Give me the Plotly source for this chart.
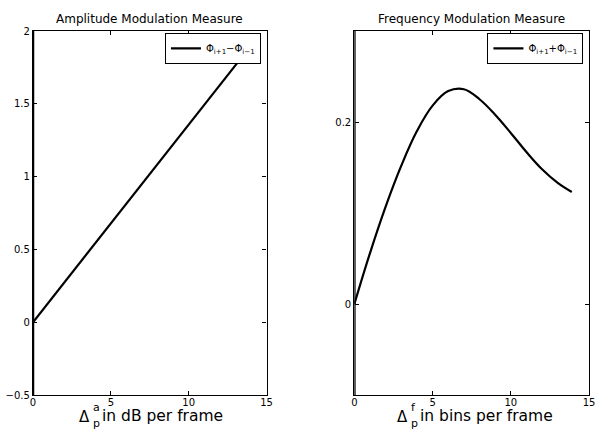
import plotly.graph_objects as go

# Amplitude modulation measure (phase difference Φ_{i+1} − Φ_{i−1})
am_x = [0, 14]
am_y = [0, 1.9]

# Frequency modulation measure (phase sum Φ_{i+1} + Φ_{i−1})
fm_x = [0, 1, 2, 3, 4, 5, 6, 7, 8, 9, 10, 11, 12, 13, 13.9]
fm_y = [0, 0.056, 0.107, 0.152, 0.190, 0.218, 0.234, 0.236, 0.225,
        0.208, 0.188, 0.167, 0.148, 0.133, 0.123]

x_ticks = [0, 5, 10, 15]
am_yticks = [-0.5, 0, 0.5, 1, 1.5, 2]
am_ytext = ["−0.5", "0", "0.5", "1", "1.5", "2"]
fm_yticks = [0, 0.2]

FONT = "DejaVu Sans, Arial, sans-serif"

fig = go.Figure()
fig.add_trace(go.Scatter(
    x=am_x, y=am_y, mode="lines", line=dict(color="black", width=2.2),
    name="Φ<sub>i+1</sub>−Φ<sub>i−1</sub>", xaxis="x", yaxis="y", legend="legend"))
fig.add_trace(go.Scatter(
    x=fm_x, y=fm_y, mode="lines", line=dict(color="black", width=2.2, shape="spline", smoothing=1.1),
    name="Φ<sub>i+1</sub>+Φ<sub>i−1</sub>", xaxis="x2", yaxis="y2", legend="legend2"))

axis_common = dict(
    showgrid=False, zeroline=False, showline=True, linecolor="black", linewidth=1.3,
    mirror="ticks", ticks="inside", ticklen=4, tickcolor="black",
    tickfont=dict(family=FONT, size=10, color="black"),
)

legend_common = dict(
    yanchor="top", xanchor="right", bordercolor="black", borderwidth=1, bgcolor="white",
    font=dict(family=FONT, size=10), itemwidth=30,
)

fig.update_layout(
    width=600, height=429,
    margin=dict(l=33, r=5, t=31, b=34),
    paper_bgcolor="white", plot_bgcolor="white",
    font=dict(family=FONT, color="black"),
    xaxis=dict(domain=[0, 0.42], range=[0, 15], tickvals=x_ticks, ticklabelstandoff=-2, **axis_common),
    yaxis=dict(domain=[0, 1], range=[-0.5, 2], tickvals=am_yticks, ticktext=am_ytext, **axis_common),
    xaxis2=dict(domain=[0.578, 1], range=[0, 15], tickvals=x_ticks, anchor="y2",
                ticklabelstandoff=-2, **axis_common),
    yaxis2=dict(domain=[0, 1], range=[-0.1, 0.3], tickvals=fm_yticks, anchor="x2", **axis_common),
    legend=dict(x=0.41, y=0.995, **legend_common),
    legend2=dict(x=0.99, y=0.995, **legend_common),
    showlegend=True,
)

# Thicker left spines
fig.add_shape(type="line", xref="x", yref="y", x0=0, x1=0, y0=-0.5, y1=2,
              line=dict(color="black", width=2.5))
fig.add_shape(type="line", xref="x2", yref="y2", x0=0, x1=0, y0=-0.1, y1=0.3,
              line=dict(color="black", width=2.5))

# Panel titles
for xc, title in ((0.21, "Amplitude Modulation Measure"), (0.789, "Frequency Modulation Measure")):
    fig.add_annotation(text=title, x=xc, y=1.0, xref="paper", yref="paper",
                       xanchor="center", yanchor="bottom", yshift=3, showarrow=False,
                       font=dict(family=FONT, size=12))

# Axis titles: Δ with stacked super/subscript
def delta_label(x_paper, sup, rest):
    fig.add_annotation(text="Δ", x=x_paper, y=0, xref="paper", yref="paper", xanchor="right",
                       yanchor="top", yshift=-11, showarrow=False, font=dict(family=FONT, size=15))
    fig.add_annotation(text=sup, x=x_paper, y=0, xref="paper", yref="paper", xanchor="left",
                       yanchor="top", yshift=-4, xshift=-1, showarrow=False, font=dict(family=FONT, size=11))
    fig.add_annotation(text="p", x=x_paper, y=0, xref="paper", yref="paper", xanchor="left",
                       yanchor="top", yshift=-20, xshift=-1, showarrow=False, font=dict(family=FONT, size=11))
    fig.add_annotation(text=rest, x=x_paper, y=0, xref="paper", yref="paper", xanchor="left",
                       yanchor="top", yshift=-10, xshift=8, showarrow=False, font=dict(family=FONT, size=15.5))

delta_label((93 - 33) / 562, "a", "in dB per frame")
delta_label((414 - 33) / 562, "f", "in bins per frame")

fig.write_html("out.html")
